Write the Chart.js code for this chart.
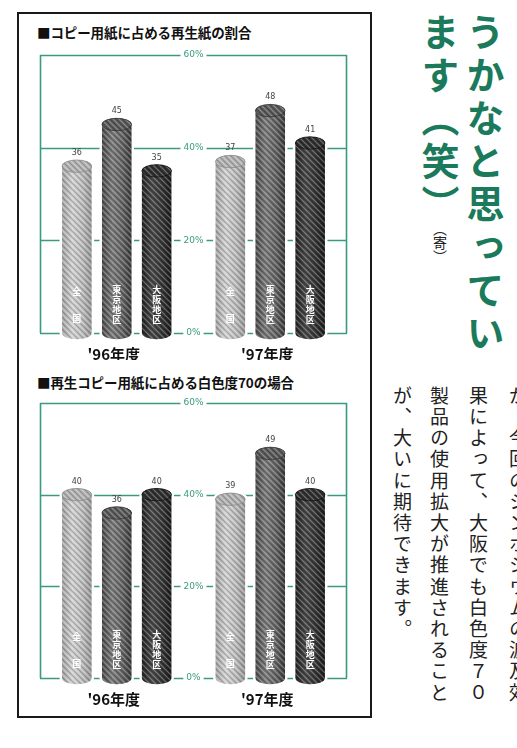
<!DOCTYPE html>
<html><head><meta charset="utf-8">
<script src="https://cdn.jsdelivr.net/npm/chart.js@4/dist/chart.umd.min.js"></script>
<style>
html,body{margin:0;padding:0;background:#fff;width:517px;height:748px;overflow:hidden;position:relative;font-family:"Noto Sans CJK JP","Noto Sans",sans-serif;}
#box{position:absolute;left:17px;top:12px;width:351px;height:702px;border:2px solid #1a1a1a;}
.ttl{position:absolute;left:37px;font-weight:bold;font-size:13.5px;color:#111;line-height:1;white-space:nowrap;letter-spacing:-0.1px}
#t1{top:26px} #t2{top:376px}
.wrap{position:absolute;left:0;width:372px}
#w1{top:0;height:360px} #w2{top:360px;height:388px}
.vt{position:absolute;writing-mode:vertical-rl;white-space:nowrap;line-height:1}
.head{font-weight:bold;font-size:38px;color:#1b7a5c;letter-spacing:5px;top:13px}
.small{font-size:14px;color:#222;top:222px}
.body{font-size:19px;color:#222;letter-spacing:2.2px;top:386px}
</style></head>
<body>
<div id="box"></div>
<div class="ttl" id="t1"></div>
<div class="ttl" id="t2"></div>
<div class="wrap" id="w1"><canvas id="c1" width="372" height="360"></canvas></div>
<div class="wrap" id="w2"><canvas id="c2" width="372" height="388"></canvas></div>

<div class="vt head" style="left:466px">うかなと思ってい</div>
<div class="vt head" style="left:421px">ます（笑）</div>
<div class="vt small" style="left:433px">（寄）</div>

<div class="vt body" style="left:509px">が。今回のシンポジウムの波及効</div>
<div class="vt body" style="left:469px">果によって、大阪でも白色度７０</div>
<div class="vt body" style="left:430px">製品の使用拡大が推進されること</div>
<div class="vt body" style="left:393px">が、大いに期待できます。</div>

<script>
// ---- data ----
const categories = ["'96年度", "'97年度"];
const seriesNames = ["全国", "東京地区", "大阪地区"];
const chart1Title = "■コピー用紙に占める再生紙の割合";
const chart1Zenkoku = [36, 37];
const chart1Tokyo = [45, 48];
const chart1Osaka = [35, 41];
const chart2Title = "■再生コピー用紙に占める白色度70の場合";
const chart2Zenkoku = [40, 39];
const chart2Tokyo = [36, 49];
const chart2Osaka = [40, 40];
const tickValues = [0, 20, 40, 60];
const tickLabels = ["0%", "20%", "40%", "60%"];

document.getElementById('t1').textContent = chart1Title;
document.getElementById('t2').textContent = chart2Title;

// ---- styles ----
const GREEN = '#3a9a80';
const cylColors = [
  {e1:'#a4a4a4', l:'#d2d2d2', m:'#bdbdbd', e2:'#969696', top:'#b4b4b4', rim:'#8a8a8a'},
  {e1:'#4a4a4a', l:'#7c7c7c', m:'#636363', e2:'#3a3a3a', top:'#5a5a5a', rim:'#333'},
  {e1:'#222', l:'#4a4a4a', m:'#353535', e2:'#1a1a1a', top:'#303030', rim:'#111'}
];
const innerOffsets = {2:[41,14], 4:[43,33,23,13]};

function hatchTile(){
  const c=document.createElement('canvas'); c.width=c.height=6;
  const g=c.getContext('2d');
  g.lineWidth=1.2;
  g.strokeStyle='rgba(255,255,255,0.30)';
  g.beginPath(); g.moveTo(-1,-1); g.lineTo(7,7); g.moveTo(-1,5); g.lineTo(1,7); g.moveTo(5,-1); g.lineTo(7,1); g.stroke();
  g.strokeStyle='rgba(0,0,0,0.22)';
  g.beginPath(); g.moveTo(-4,-1); g.lineTo(4,7); g.moveTo(2,-1); g.lineTo(10,7); g.stroke();
  return c;
}
const tile = hatchTile();

function cylPath(ctx, x, top, base, rx, ry){
  ctx.beginPath();
  ctx.moveTo(x-rx, top);
  ctx.lineTo(x-rx, base);
  ctx.ellipse(x, base, rx, ry, 0, Math.PI, 0, true);
  ctx.lineTo(x+rx, top);
  ctx.ellipse(x, top, rx, ry, 0, 0, Math.PI, true);
  ctx.closePath();
}

const cylPlugin = {
  id:'cyl',
  beforeDatasetsDraw(chart){
    const ctx=chart.ctx, a=chart.chartArea, ys=chart.scales.y;
    ctx.save();
    ctx.strokeStyle=GREEN; ctx.lineWidth=1.6;
    tickValues.forEach(v=>{
      const y=Math.round(ys.getPixelForValue(v))+0.5;
      ctx.beginPath(); ctx.moveTo(a.left,y); ctx.lineTo(a.right,y); ctx.stroke();
    });
    const yt=ys.getPixelForValue(tickValues[tickValues.length-1]), yb=ys.getPixelForValue(tickValues[0]);
    ctx.beginPath(); ctx.moveTo(a.left+0.5,yt); ctx.lineTo(a.left+0.5,yb);
    ctx.moveTo(a.right-0.5,yt); ctx.lineTo(a.right-0.5,yb); ctx.stroke();
    ctx.restore();
  },
  afterDatasetsDraw(chart){
    const ctx=chart.ctx, a=chart.chartArea, ys=chart.scales.y, xs=chart.scales.x;
    const pat=ctx.createPattern(tile,'repeat');
    ctx.save();
    chart.data.datasets.forEach((ds,di)=>{
      const col=cylColors[di];
      chart.getDatasetMeta(di).data.forEach((bar,j)=>{
        const p=bar.getProps(['x','y','base','width'],true);
        const rx=p.width/2, ry=p.width*0.21;
        cylPath(ctx,p.x,p.y,p.base,rx,ry);
        ctx.strokeStyle='#fff'; ctx.lineWidth=5; ctx.stroke();
        const g=ctx.createLinearGradient(p.x-rx,0,p.x+rx,0);
        g.addColorStop(0,col.e1); g.addColorStop(0.35,col.l); g.addColorStop(0.7,col.m); g.addColorStop(1,col.e2);
        cylPath(ctx,p.x,p.y,p.base,rx,ry);
        ctx.fillStyle=g; ctx.fill();
        ctx.fillStyle=pat; ctx.fill();
        ctx.beginPath(); ctx.ellipse(p.x,p.y,rx,ry,0,0,Math.PI*2);
        ctx.fillStyle=col.top; ctx.fill();
        ctx.fillStyle=pat; ctx.fill();
        ctx.strokeStyle=col.rim; ctx.lineWidth=0.8; ctx.stroke();
        ctx.fillStyle='#444'; ctx.font='8px "DejaVu Sans", sans-serif';
        ctx.textAlign='center'; ctx.textBaseline='bottom';
        ctx.fillText(String(ds.data[j]), p.x, p.y-ry-3);
        const name=seriesNames[di], chars=[...name], offs=innerOffsets[chars.length];
        ctx.fillStyle='#fff'; ctx.font='bold 9px "Noto Sans CJK JP", sans-serif';
        ctx.textBaseline='middle';
        chars.forEach((ch,k)=>ctx.fillText(ch, p.x, p.base-offs[k]));
      });
    });
    const cx=(a.left+a.right)/2;
    ctx.font='9px "DejaVu Sans", sans-serif'; ctx.textAlign='center'; ctx.textBaseline='middle';
    tickValues.forEach((v,i)=>{
      const y=ys.getPixelForValue(v);
      const w=ctx.measureText(tickLabels[i]).width+6;
      ctx.fillStyle='#fff'; ctx.fillRect(cx-w/2,y-5,w,10);
      ctx.fillStyle=GREEN; ctx.fillText(tickLabels[i],cx,y);
    });
    ctx.fillStyle='#111'; ctx.font='bold 15px "Noto Sans CJK JP", sans-serif';
    categories.forEach((c,i)=>{
      ctx.fillText(c, xs.getPixelForValue(i)-3, ys.getPixelForValue(0)+21);
    });
    ctx.restore();
  }
};

function makeChart(id, vals, pad){
  new Chart(document.getElementById(id), {
    type:'bar',
    data:{labels:categories, datasets:seriesNames.map((n,i)=>({label:n, data:vals[i], backgroundColor:'rgba(0,0,0,0)', borderWidth:0, categoryPercentage:0.78, barPercentage:0.74}))},
    options:{
      responsive:false, animation:false, events:[],
      layout:{padding:pad},
      plugins:{legend:{display:false}, tooltip:{enabled:false}, title:{display:false}},
      scales:{x:{display:false}, y:{display:false, min:0, max:60}}
    },
    plugins:[cylPlugin]
  });
}
makeChart('c1', [chart1Zenkoku, chart1Tokyo, chart1Osaka], {left:40, right:25, top:55, bottom:27});
makeChart('c2', [chart2Zenkoku, chart2Tokyo, chart2Osaka], {left:40, right:25, top:43, bottom:70});
</script>
</body></html>
